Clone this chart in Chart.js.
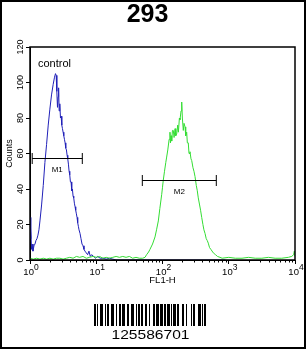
<!DOCTYPE html>
<html><head><meta charset="utf-8">
<script src="https://cdn.jsdelivr.net/npm/chart.js@4/dist/chart.umd.min.js"></script>
<style>html,body{margin:0;padding:0;background:#fff;}#wrap{position:relative;width:306px;height:349px;}</style>
</head><body><div id="wrap"><canvas id="c"></canvas></div>
<script>
const chartTitle = '293';
const controlLabel = 'control';
const xAxisTitle = 'FL1-H';
const yAxisTitle = 'Counts';
const sampleId = '125586701';
const xMajorTicks = [1, 10, 100, 1000, 10000];
const xTickExponents = ['0', '1', '2', '3', '4'];
const yTicks = [0, 20, 40, 60, 80, 100, 120];

// control (blue) histogram: FL1-H value, counts
const blueFL1 = [1.00,1.02,1.035,1.054,1.072,1.109,1.148,1.189,1.23,1.274,1.318,1.365,1.413,1.496,1.585,1.679,1.778,1.884,1.995,2.113,2.239,2.344,2.427,2.483,2.541,2.6,2.661,2.704,2.754,2.818,2.884,2.951,3.02,3.09,3.162,3.236,3.311,3.388,3.467,3.548,3.631,3.715,3.802,3.89,3.981,4.074,4.169,4.266,4.365,4.467,4.571,4.677,4.786,4.898,5.012,5.129,5.248,5.37,5.495,5.689,5.888,6.095,6.31,6.531,6.761,7.079,7.413,7.762,8.128,8.511,9.12,9.772,10.47,11.48,12.59,14.13,15.85,17.78,19.95,100,891];
const blueCounts = [24,12,18,6,9,5,8,9,11,12,14,17,22,31,42,55,65,76,85,93,99,103,105,104,95,86,92,97,84,88,80,81,76,74,72,70,68,66,63,62,59,57,54,50,48,44,44,39,40,36,35,32,30,28,26,24,21,19,17,15,12,9,8,6,5,4,3,5,2,3,2,1,2,1,1,0.5,1,0.5,0,0,0];

// sample (green) histogram: FL1-H value, counts
const greenFL1 = [1.0,1.122,1.259,1.413,1.585,1.778,1.995,2.239,2.512,2.818,3.162,3.548,3.981,4.467,5.012,5.623,6.31,7.079,7.943,8.913,10,11.22,12.59,14.13,15.85,17.78,19.95,22.39,25.12,28.18,31.62,35.48,39.81,44.67,50.12,54.45,57.54,61.66,64.71,70.79,77.09,81.28,86.5,91.2,97.27,100,102.8,107.2,112.2,115.6,120.2,125.9,129.7,131.8,134.9,137.7,141.3,145.6,149.6,154.9,158.5,163.7,169.8,173.8,179.9,183.7,190.5,195.0,199.5,206.1,211.3,218.8,223.9,231.7,237.1,244.9,251.2,260.0,269.2,276.1,288.4,298.5,309.7,323.6,335.0,346.7,363.1,375.8,390.8,407.4,421.7,438.5,457.1,473.2,490.9,512.9,537.0,584.8,631.0,676.1,738.0,794.3,1000,1259,1585,1995,2512,3162,3981,5012,6310,7943,8913,9550,9772,10000];
const greenCounts = [1,0.5,1,0.5,1,0.5,1,0.5,1,1,0.5,1,1.5,1,2,1.5,2,1,1.5,2,1.5,2,1,1.5,1,1.5,2,1.5,2,1.5,2,1,1.5,1,1,1.5,3,4.5,6,9,13,17,22,29,37,41,45,50,55,58,62,68,72,66,70,67,73,73,69,74,70,71,76,72,80,79,84,89,80,73,77,75,70,72,66,66,60,61,57,56,52,50,47,42,39,35,31,28,24,20,17,15,12,11,9.5,7,6,4,3,2,1.5,1,1.5,1,1,1.5,1,1,1.5,1,1,1.5,2,3,5,2];

// gate markers
const markerNames = ['M1', 'M2'];
const markerStart = [1.08, 49.6];
const markerEnd = [6.16, 649];
const markerLevel = [57.6, 45];

const barcodePattern = '11010011100' + '10110011100' + '10011011100' + '11001110010' + '11011001100' + '10001101110' + '11101101110' + '10111011000' + '11001000010' + '1100011101011';

const FONT = '"Liberation Sans", Arial, Helvetica, sans-serif';
const isPow10 = v => Math.abs(Math.log10(v) - Math.round(Math.log10(v))) < 1e-9;
const zip = (xs, ys) => xs.map((x, i) => ({x, y: ys[i]}));

const decor = {
  id: 'decor',
  afterDatasetsDraw(chart) {
    const {ctx, scales: {x, y}} = chart;
    ctx.save();
    ctx.strokeStyle = '#000'; ctx.fillStyle = '#000'; ctx.lineWidth = 1;
    ctx.font = '8px ' + FONT; ctx.textAlign = 'center'; ctx.textBaseline = 'middle';
    markerNames.forEach((name, i) => {
      const x1 = x.getPixelForValue(markerStart[i]);
      const x2 = x.getPixelForValue(markerEnd[i]);
      const py = Math.round(y.getPixelForValue(markerLevel[i])) + 0.5;
      ctx.beginPath();
      ctx.moveTo(x1, py); ctx.lineTo(x2, py);
      ctx.moveTo(x1, py - 5.5); ctx.lineTo(x1, py + 5.5);
      ctx.moveTo(x2, py - 5.5); ctx.lineTo(x2, py + 5.5);
      ctx.stroke();
      ctx.fillText(name, (x1 + x2) / 2, py + 11.5);
    });
    ctx.restore();
  },
  afterDraw(chart) {
    const {ctx, chartArea: a, scales: {x, y}} = chart;
    ctx.save();
    ctx.strokeStyle = '#000'; ctx.fillStyle = '#000';
    ctx.lineWidth = 1.5;
    ctx.strokeRect(a.left, a.top, a.right - a.left, a.bottom - a.top);
    // rotated y tick labels
    ctx.font = '9px ' + FONT; ctx.textAlign = 'center'; ctx.textBaseline = 'middle';
    yTicks.forEach(v => {
      const py = y.getPixelForValue(v);
      ctx.save(); ctx.translate(20.5, py); ctx.rotate(-Math.PI / 2);
      ctx.fillText(String(v), 0, 0); ctx.restore();
    });
    // minor x ticks
    ctx.lineWidth = 1;
    ctx.beginPath();
    x.ticks.forEach(t => {
      if (!isPow10(t.value)) {
        const px = Math.round(x.getPixelForValue(t.value)) + 0.5;
        ctx.moveTo(px, a.bottom); ctx.lineTo(px, a.bottom + 2.5);
      }
    });
    ctx.stroke();
    // x tick labels 10^n
    xMajorTicks.forEach((v, i) => {
      const px = x.getPixelForValue(v);
      ctx.font = '9.5px ' + FONT;
      const wb = ctx.measureText('10').width;
      ctx.font = '8.5px ' + FONT;
      const we = ctx.measureText(xTickExponents[i]).width;
      const start = px - (wb + we) / 2 + 1;
      ctx.textAlign = 'left'; ctx.textBaseline = 'alphabetic';
      ctx.font = '9.5px ' + FONT;
      ctx.fillText('10', start, 274.5);
      ctx.font = '8.5px ' + FONT;
      ctx.fillText(xTickExponents[i], start + wb, 270);
    });
    // control label
    ctx.font = '11px ' + FONT; ctx.textAlign = 'left'; ctx.textBaseline = 'alphabetic';
    ctx.fillText(controlLabel, a.left + 8, a.top + 20);
    // barcode
    const bx = 94, by = 304, bh = 22;
    for (let i = 0; i < barcodePattern.length; i++) {
      if (barcodePattern[i] === '1') ctx.fillRect(bx + i, by, 1, bh);
    }
    ctx.font = '13px ' + FONT; ctx.textAlign = 'center'; ctx.textBaseline = 'alphabetic';
    const tw = ctx.measureText(sampleId).width;
    ctx.save(); ctx.translate(150.5, 338.5); ctx.scale(78 / tw, 1);
    ctx.fillText(sampleId, 0, 0); ctx.restore();
    // outer frame
    ctx.lineWidth = 2;
    ctx.strokeRect(1, 1, 304, 347);
    ctx.restore();
  }
};

new Chart(document.getElementById('c'), {
  type: 'scatter',
  data: {
    datasets: [
      {label: 'sample', data: zip(greenFL1, greenCounts), showLine: true, borderColor: '#33dd33', borderWidth: 1, pointRadius: 0, tension: 0},
      {label: 'control', data: zip(blueFL1, blueCounts), showLine: true, borderColor: '#2020b8', borderWidth: 1, pointRadius: 0, tension: 0}
    ]
  },
  options: {
    responsive: true, maintainAspectRatio: false, animation: false,
    layout: {padding: {top: 0, left: 0, right: 11, bottom: 59}},
    plugins: {
      legend: {display: false}, tooltip: {enabled: false},
      title: {display: true, text: chartTitle, color: '#000', font: {family: FONT, size: 25, weight: 'bold'}, padding: {top: 0, bottom: 17}}
    },
    scales: {
      x: {
        type: 'logarithmic', min: 1, max: 10000,
        afterBuildTicks: s => {
          const t = [];
          xMajorTicks.forEach((m, i) => {
            if (i < xMajorTicks.length - 1) { for (let k = 1; k <= 9; k++) t.push({value: m * k}); }
            else t.push({value: m});
          });
          s.ticks = t;
        },
        afterFit: s => { s.height = 30; },
        ticks: {display: false, autoSkip: false},
        grid: {drawOnChartArea: false, drawTicks: true, tickLength: 4, tickColor: c => (c.tick && isPow10(c.tick.value)) ? '#000' : 'rgba(0,0,0,0)'},
        border: {display: true, color: '#000'},
        title: {display: true, text: xAxisTitle, color: '#000', font: {family: FONT, size: 9.5}, padding: {top: 0, bottom: 4}}
      },
      y: {
        min: 0, max: 120,
        ticks: {display: false, stepSize: 20},
        afterFit: s => { s.width = 30; },
        grid: {drawOnChartArea: false, drawTicks: true, tickLength: 4, tickColor: '#000'},
        border: {display: true, color: '#000'},
        title: {display: true, text: yAxisTitle, color: '#000', font: {family: FONT, size: 9}, padding: {top: 4, bottom: 0}}
      }
    }
  },
  plugins: [decor]
});
</script></body></html>
